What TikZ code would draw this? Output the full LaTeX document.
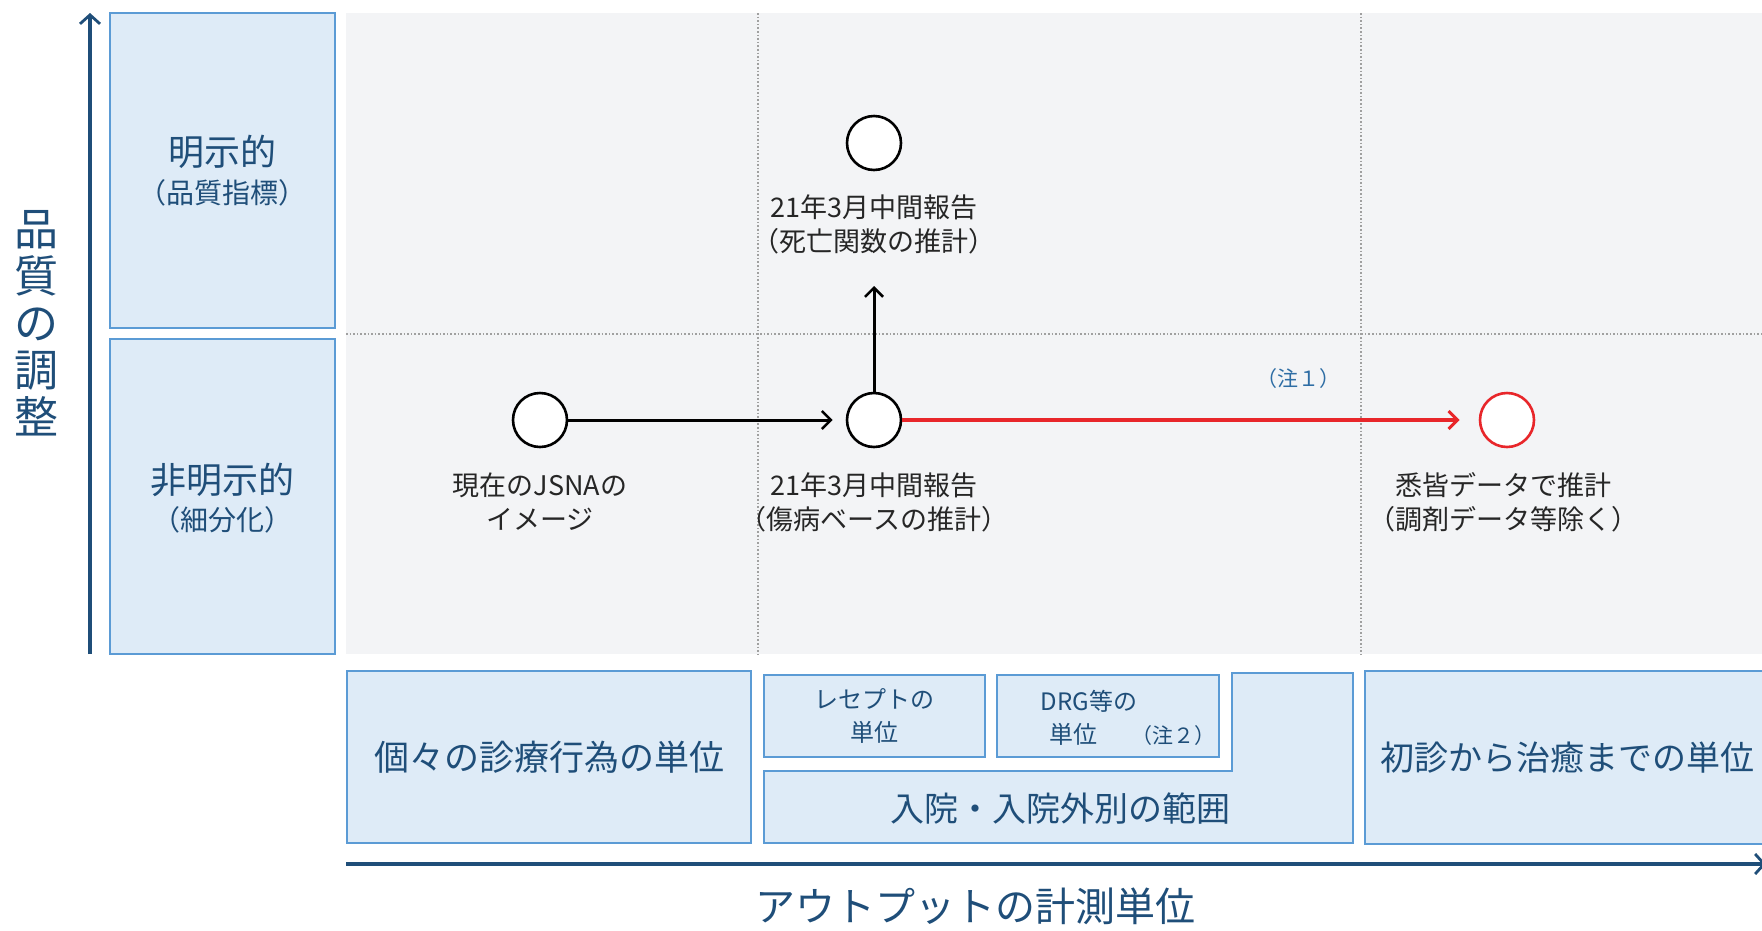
\documentclass[tikz,border=0pt]{standalone}
\usepackage{fontspec}
\setmainfont{Noto Sans CJK JP}
\usetikzlibrary{arrows.meta}
\definecolor{boxfill}{HTML}{DEEBF7}
\definecolor{boxline}{HTML}{5B9BD5}
\definecolor{navy}{HTML}{1F4E79}
\definecolor{panel}{HTML}{F3F4F6}
\definecolor{dotgrey}{HTML}{A0A0A0}
\definecolor{redline}{HTML}{E8262A}
\definecolor{notecol}{HTML}{2E6DA4}
\definecolor{labtext}{HTML}{262626}
\newcommand\fsz[2]{\fontsize{#1}{#2}\selectfont}
\begin{document}
\begin{tikzpicture}[x=1pt,y=-1pt,
  ubox/.style={draw=boxline,fill=boxfill,line width=1.8pt,inner sep=0pt,text=navy,align=center},
  btext/.style={text=navy,inner sep=0pt,align=center},
  gridline/.style={draw=dotgrey,line width=1.6pt,dotted},
  axisarrow/.style={draw=navy,line width=3.5pt,-{Straight Barb[length=9pt,width=20pt,line width=2.8pt]}},
  pt/.style={circle,draw=black,fill=white,line width=2.6pt,minimum size=54pt,inner sep=0pt},
  redpt/.style={pt,draw=redline},
  blackarrow/.style={draw=black,line width=3pt,-{Straight Barb[length=9pt,width=18pt,line width=2.6pt]}},
  redarrow/.style={draw=redline,line width=3.5pt,-{Straight Barb[length=9pt,width=18pt,line width=3pt]}},
  lab/.style={align=center,text=labtext,font=\fsz{27}{34},inner sep=0pt},
  note/.style={text=notecol,font=\fsz{21}{24},inner sep=0pt}]
\useasboundingbox (0,0) rectangle (1762,930);
\fill[white] (0,0) rectangle (1762,930);
% grey panel
\fill[panel] (346,13) rectangle (1762,654);
% grid lines
\coordinate (g1t) at (758,13); \coordinate (g1b) at (758,654);
\coordinate (g2t) at (1361,13); \coordinate (g2b) at (1361,654);
\coordinate (ghl) at (346,334); \coordinate (ghr) at (1762,334);
\draw[gridline] (g1t) -- (g1b);
\draw[gridline] (g2t) -- (g2b);
\draw[gridline] (ghl) -- (ghr);
% y axis
\coordinate (ya0) at (90,654); \coordinate (ya1) at (90,13);
\draw[axisarrow] (ya0) -- (ya1);
\node[btext,font=\fsz{44}{47}] (ytitle) at (36,323) {品\\質\\の\\調\\整};
% left category boxes
\node[ubox,minimum width=225pt,minimum height=315pt] (explicit) at (222.5,170.5) {};
\node[btext,font=\fsz{36}{40}] (explicitA) at (222.5,152) {明示的};
\node[btext,font=\fsz{28}{34}] (explicitB) at (222.5,193) {（品質指標）};
\node[ubox,minimum width=225pt,minimum height=315pt] (implicit) at (222.5,496.5) {};
\node[btext,font=\fsz{36}{40}] (implicitA) at (222.5,480) {非明示的};
\node[btext,font=\fsz{28}{34}] (implicitB) at (222.5,520) {（細分化）};
% points
\node[pt] (now) at (540,420) {};
\node[pt] (mid) at (874,420) {};
\node[pt] (top) at (874,143) {};
\node[redpt] (full) at (1507,420) {};
\coordinate (midup) at (874,286);
\draw[blackarrow,shorten >=13pt] (now) -- (mid);
\draw[blackarrow] (mid) -- (midup);
\draw[redarrow,shorten >=19pt] (mid) -- (full);
\node[note] (note1) at (1298,379) {（注１）};
% labels
\node[lab] (nowlab) at (540,502) {現在のJSNAの\\イメージ};
\node[lab] (midlab) at (874,502) {21年3月中間報告\\（傷病ベースの推計）};
\node[lab] (toplab) at (874,224) {21年3月中間報告\\（死亡関数の推計）};
\node[lab] (fulllab) at (1503,502) {悉皆データで推計\\（調剤データ等除く）};
% bottom unit boxes
\node[ubox,minimum width=404pt,minimum height=172pt,font=\fsz{35}{42}] (unitA) at (549,757)
  {個々の診療行為の単位};
\node[ubox,minimum width=221pt,minimum height=82pt,font=\fsz{24}{33}] (unitB) at (874.5,716)
  {レセプトの\\単位};
\node[ubox,minimum width=222pt,minimum height=82pt] (unitC) at (1108,716) {};
\node[btext,font=\fsz{24}{28}] (unitCa) at (1089,701) {DRG等の};
\node[btext,font=\fsz{24}{28}] (unitCb) at (1073,734) {単位};
\node[note,text=navy] (note2) at (1173,736) {（注２）};
\draw[ubox] (764,771) -- (1232,771) -- (1232,673) -- (1353,673) -- (1353,843) -- (764,843) -- cycle;
\node[btext,font=\fsz{34}{40}] (unitD) at (1060,809) {入院・入院外別の範囲};
\node[ubox,minimum width=405pt,minimum height=173pt,font=\fsz{34}{40}] (unitE) at (1567.5,757.5)
  {初診から治癒までの単位};
% x axis
\coordinate (xa0) at (346,864); \coordinate (xa1) at (1766,864);
\draw[axisarrow] (xa0) -- (xa1);
\node[btext,font=\fsz{40}{48}] (xtitle) at (975,906) {アウトプットの計測単位};
\end{tikzpicture}
\end{document}
